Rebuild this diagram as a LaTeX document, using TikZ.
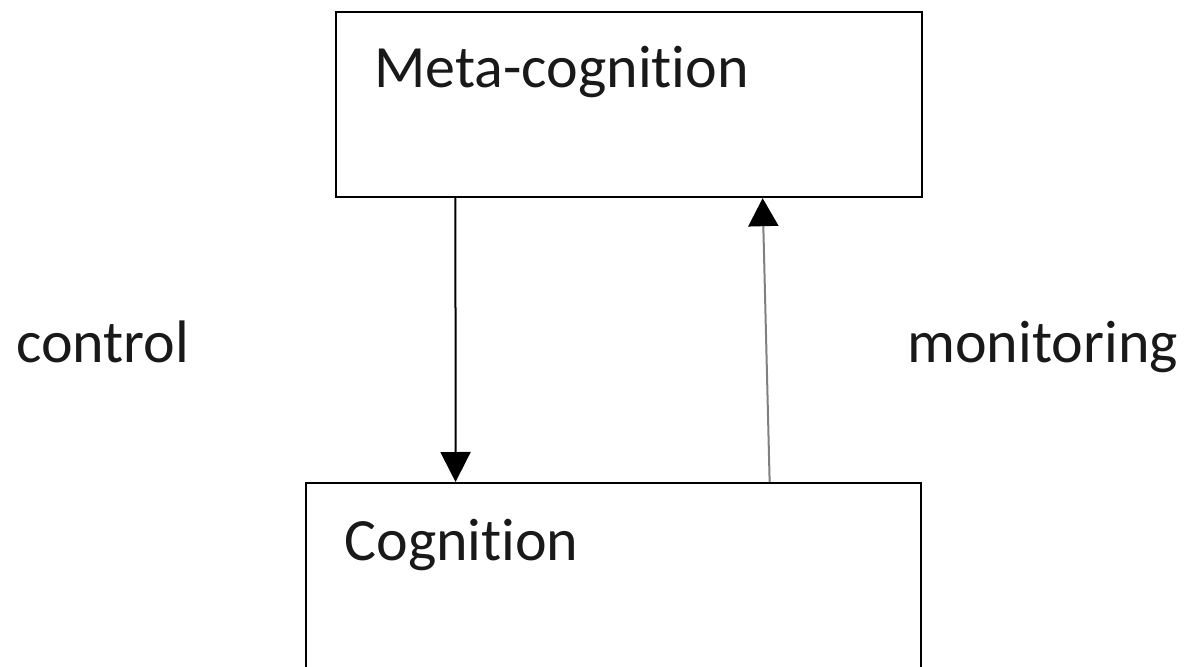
\documentclass[tikz,border=0pt]{standalone}
\usepackage{fontspec}
\setmainfont{Carlito}[Ligatures={NoCommon,NoRequired,NoContextual}]
\usetikzlibrary{arrows.meta,calc}
\begin{document}
\begin{tikzpicture}[x=0.5pt,y=-0.5pt,
  box/.style={draw=black,line width=1.1pt,inner sep=0pt,anchor=north west},
  lbl/.style={inner sep=0pt,anchor=base west,font=\fontsize{30}{36}\selectfont,text=black!90},
  conn/.style={line width=1pt,-{Triangle[width=15pt,length=15pt]}}]
\useasboundingbox (0,0) rectangle (1192,667);
\clip (0,0) rectangle (1192,667);
\fill[white] (0,0) rectangle (1192,667);
\node[box,minimum width=293pt,minimum height=92.5pt] (top) at (335,11) {};
\node[box,minimum width=307.5pt,minimum height=110pt] (bot) at (305,482) {};
\node[lbl] (meta) at (374,88) {Meta-cognition};
\node[lbl] (cog) at (344,560) {Cognition};
\node[lbl] (control) at (16,363) {control};
\node[lbl] (monitoring) at (907,363) {monitoring};
\draw[conn] ($(top.south west)!0.2048!(top.south east)$) -- ($(bot.north west)!0.2439!(bot.north east)$);
\draw[line width=1pt,draw=black!50,-{Triangle[width=15pt,length=14pt,color=black,fill=black]}] ($(bot.north west)!0.7528!(bot.north east)$) -- ($(top.south west)!0.727!(top.south east)$);
\end{tikzpicture}
\end{document}
